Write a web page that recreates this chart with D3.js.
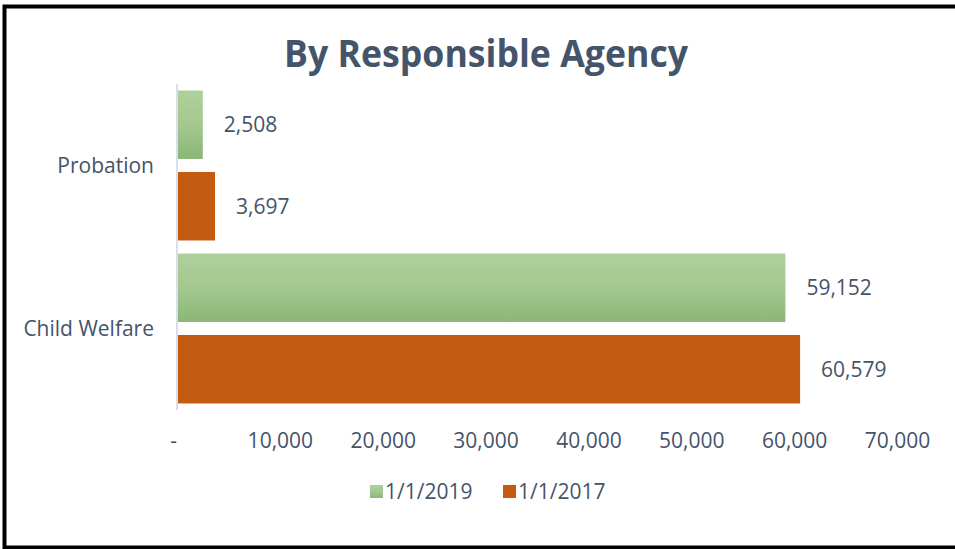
<!DOCTYPE html>
<meta charset="utf-8">
<style>
  body { margin: 0; background: #fff; }
  svg text { font-family: "Open Sans", sans-serif; fill: #44546a; }
  .title { font-family: "Liberation Sans Narrow", "Open Sans", sans-serif; font-weight: bold; }
</style>
<body>
<div id="chart"></div>
<script src="https://cdn.jsdelivr.net/npm/d3@7"></script>
<script>
  // data
  const categories = ["Probation", "Child Welfare"];
  const seriesNames = ["1/1/2019", "1/1/2017"];
  const values2019 = [2508, 59152];
  const values2017 = [3697, 60579];
  const xTicks = [0, 10000, 20000, 30000, 40000, 50000, 60000, 70000];

  const width = 955, height = 549;
  const rows = categories.map((c, i) => ({
    cat: c,
    vals: [
      { s: seriesNames[0], v: values2019[i] },
      { s: seriesNames[1], v: values2017[i] }
    ]
  }));

  const svg = d3.select("#chart").append("svg")
    .attr("width", width)
    .attr("height", height);

  // outer frame
  svg.append("rect")
    .attr("x", 4.5).attr("y", 6.5)
    .attr("width", width + 10).attr("height", 541)
    .attr("fill", "#fff")
    .attr("stroke", "#000")
    .attr("stroke-width", 4);

  const defs = svg.append("defs");
  const grad = defs.append("linearGradient")
    .attr("id", "green-grad")
    .attr("x1", 0).attr("y1", 0).attr("x2", 0).attr("y2", 1);
  grad.append("stop").attr("offset", "0%").attr("stop-color", "#afd09c");
  grad.append("stop").attr("offset", "55%").attr("stop-color", "#a2c78d");
  grad.append("stop").attr("offset", "100%").attr("stop-color", "#8bb677");

  const color = { "1/1/2019": "url(#green-grad)", "1/1/2017": "#c55a11" };

  const x = d3.scaleLinear().domain([0, 70000]).range([177, 897]);
  const y0 = d3.scaleBand().domain(categories).range([84, 410])
    .paddingInner(0.08).paddingOuter(0.04);
  const y1 = d3.scaleBand().domain(seriesNames).range([0, y0.bandwidth()])
    .paddingInner(0.16);

  // title
  svg.append("text")
    .attr("class", "title")
    .attr("x", 486).attr("y", 67)
    .attr("text-anchor", "middle")
    .attr("font-size", 37)
    .attr("textLength", 404)
    .attr("lengthAdjust", "spacingAndGlyphs")
    .text("By Responsible Agency");

  // bars
  const g = svg.selectAll(".grp")
    .data(rows)
    .join("g")
    .attr("class", "grp")
    .attr("transform", d => `translate(0,${y0(d.cat)})`);

  g.selectAll("rect")
    .data(d => d.vals)
    .join("rect")
    .attr("x", x(0) + 1)
    .attr("y", d => y1(d.s))
    .attr("width", d => x(d.v) - x(0) - 1)
    .attr("height", y1.bandwidth())
    .attr("fill", d => color[d.s]);

  g.selectAll(".val")
    .data(d => d.vals)
    .join("text")
    .attr("class", "val")
    .attr("x", d => x(d.v) + 21)
    .attr("y", d => y1(d.s) + y1.bandwidth() / 2)
    .attr("dy", "0.35em")
    .attr("font-size", 21)
    .text(d => d3.format(",")(d.v));

  // category axis
  svg.append("line")
    .attr("x1", x(0)).attr("x2", x(0))
    .attr("y1", 84).attr("y2", 410)
    .attr("stroke", "#d9dfe8")
    .attr("stroke-width", 2);

  svg.selectAll(".cat")
    .data(categories)
    .join("text")
    .attr("class", "cat")
    .attr("x", 154)
    .attr("y", d => y0(d) + y0.bandwidth() / 2)
    .attr("dy", "0.35em")
    .attr("text-anchor", "end")
    .attr("font-size", 21)
    .text(d => d);

  // value axis
  const xAxis = d3.axisBottom(x)
    .tickValues(xTicks)
    .tickSize(0)
    .tickPadding(0)
    .tickFormat(d => d === 0 ? "-" : d3.format(",")(d));

  const ax = svg.append("g")
    .attr("transform", "translate(0,433)")
    .call(xAxis);
  ax.select(".domain").remove();
  ax.selectAll("text")
    .attr("font-family", null)
    .attr("font-size", 21)
    .attr("fill", null)
    .attr("dy", "0.71em")
    .attr("x", d => d === 0 ? -4 : 0);

  // legend
  const legendItems = [
    { s: seriesNames[0], x: 370 },
    { s: seriesNames[1], x: 503 }
  ];
  const lg = svg.selectAll(".leg")
    .data(legendItems)
    .join("g")
    .attr("class", "leg")
    .attr("transform", d => `translate(${d.x},485)`);
  lg.append("rect")
    .attr("width", 13).attr("height", 13)
    .attr("fill", d => color[d.s]);
  lg.append("text")
    .attr("x", 15).attr("y", 6.5)
    .attr("dy", "0.35em")
    .attr("font-size", 21)
    .text(d => d.s);
</script>
</body>
